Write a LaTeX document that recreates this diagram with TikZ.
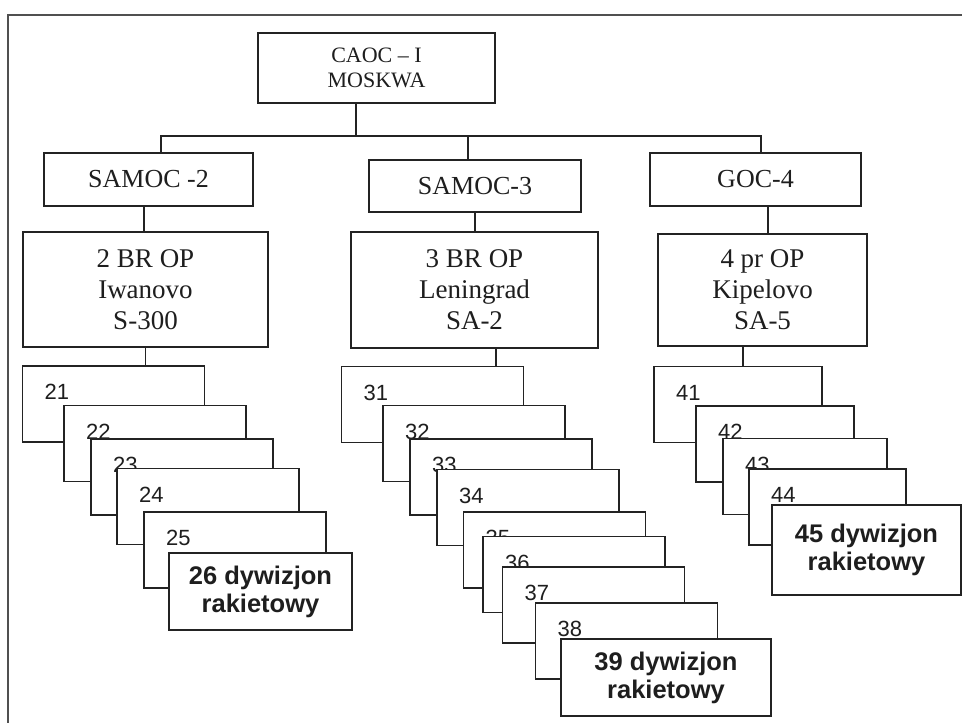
\documentclass[tikz,border=0pt]{standalone}
\usepackage{xcolor}
\usepackage{fontspec}
\usepackage{tikz}
\setmainfont{Liberation Serif}
\setsansfont{Liberation Sans}
\definecolor{inkline}{RGB}{35,35,35}
\definecolor{inktext}{RGB}{30,30,30}
\definecolor{framecol}{RGB}{80,80,80}

\begin{document}
\begin{tikzpicture}[
  x=1pt, y=-1pt,
  font=\fontsize{27}{31}\selectfont,
  box/.style={draw=inkline, fill=white, line width=1.4pt, align=center,
              inner sep=0pt, text=inktext},
  unit/.style={box, minimum width=182pt, minimum height=76pt,
               label={[numlbl]north west:#1}},
  numlbl/.style={anchor=center, xshift=35pt, yshift=-27pt, inner sep=0pt,
                 text=inktext, font=\sffamily\fontsize{22}{22}\selectfont},
  last/.style={box, font=\sffamily\bfseries\fontsize{25.5}{28}\selectfont},
  link/.style={draw=inkline, line width=1.4pt}
]
\useasboundingbox (0,0) rectangle (962,723);
\draw[framecol, line width=2pt] (8,723) -- (8,15) -- (962,15);

\node[box, minimum width=237pt, minimum height=70pt,
      font=\fontsize{22}{25}\selectfont] (caoc) at (376.5,68) {CAOC – I\\MOSKWA};

\node[box, minimum width=209pt, minimum height=53pt, font=\fontsize{26}{31}\selectfont] (samoc2) at (148.5,179.5) {SAMOC -2};
\node[box, minimum width=212pt, minimum height=52pt, font=\fontsize{26}{31}\selectfont] (samoc3) at (475,186)     {SAMOC-3};
\node[box, minimum width=211pt, minimum height=53pt, font=\fontsize{26}{31}\selectfont] (goc4)   at (755.5,179.5) {GOC-4};

\node[box, minimum width=245pt, minimum height=115pt] (br2) at (145.5,289.5) {2 BR OP\\Iwanovo\\S-300};
\node[box, minimum width=247pt, minimum height=116pt] (br3) at (474.5,290)   {3 BR OP\\Leningrad\\SA-2};
\node[box, minimum width=209pt, minimum height=112pt] (pr4) at (762.5,290)   {4 pr OP\\Kipelovo\\SA-5};

\coordinate (hub)  at (356,136);
\coordinate (barL) at (161,136);
\coordinate (barM) at (468,136);
\coordinate (barR) at (761,136);

\draw[link] (caoc.south -| hub) -- (hub);
\draw[link] (samoc2.north -| barL) -- (barL) -- (barR) -- (goc4.north -| barR);
\draw[link] (barM) -- (samoc3.north -| barM);

\draw[link] ([xshift=-4.5pt]samoc2.south) -- ([xshift=-4.5pt]samoc2.south |- br2.north);
\draw[link] (samoc3.south) -- (samoc3.south |- br3.north);
\draw[link] ([xshift=12.5pt]goc4.south) -- ([xshift=12.5pt]goc4.south |- pr4.north);

\node[unit=21] (d21) at (113.5,404) {};
\node[unit=22] (d22) at (155,443.5) {};
\node[unit=23] (d23) at (182,477)   {};
\node[unit=24] (d24) at (208,506.5) {};
\node[unit=25] (d25) at (235,550)   {};
\node[last, minimum width=183pt, minimum height=77pt] (d26) at (260.5,591.5) {26 dywizjon\\rakietowy};

\node[unit=31] (d31) at (432.5,404.5) {};
\node[unit=32] (d32) at (474,443.5)   {};
\node[unit=33] (d33) at (501,477)     {};
\node[unit=34] (d34) at (528,507.5)   {};
\node[unit=35] (d35) at (554.5,550)   {};
\node[unit=36] (d36) at (574,574.5)   {};
\node[unit=37] (d37) at (593.5,605)   {};
\node[unit=38] (d38) at (626.5,641)   {};
\node[last, minimum width=210pt, minimum height=77pt] (d39) at (666,677.5) {39 dywizjon\\rakietowy};

\node[unit=41, minimum width=168pt] (d41) at (738,404.5) {};
\node[unit=42, minimum width=158pt] (d42) at (775,444)   {};
\node[unit=43, minimum width=164pt] (d43) at (805,476.5) {};
\node[unit=44, minimum width=157pt] (d44) at (827.5,507) {};
\node[last, minimum width=189pt, minimum height=90pt] (d45) at (866.5,550) {45 dywizjon\\rakietowy};

\draw[link] (br2.south) -- (br2.south |- d21.north);
\draw[link] ([xshift=21.5pt]br3.south) -- ([xshift=21.5pt]br3.south |- d31.north);
\draw[link] ([xshift=-19.5pt]pr4.south) -- ([xshift=-19.5pt]pr4.south |- d41.north);

\end{tikzpicture}
\end{document}
